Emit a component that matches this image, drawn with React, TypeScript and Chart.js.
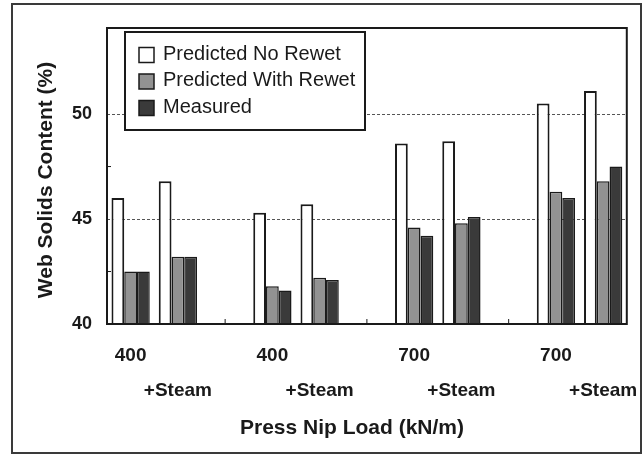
import React, { useEffect, useRef } from "react";
import { Chart, registerables } from "chart.js";

Chart.register(...registerables);

// ---- data ----
const tickLabels = ["400", "+Steam", "", "400", "+Steam", "", "700", "+Steam", "", "700", "+Steam"];
const predictedNoRewet = [46.0, 46.8, null, 45.3, 45.7, null, 48.6, 48.7, null, 50.5, 51.1];
const predictedWithRewet = [42.5, 43.2, null, 41.8, 42.2, null, 44.6, 44.8, null, 46.3, 46.8];
const measured = [42.5, 43.2, null, 41.6, 42.1, null, 44.2, 45.1, null, 46.0, 47.5];
const seriesNames = ["Predicted No Rewet", "Predicted With Rewet", "Measured"];
const yLabelTicks = [40, 45, 50];
const yGridValues = [45, 50];
const yMinorTicks = [42.5, 47.5];
const xTitle = "Press Nip Load (kN/m)";
const yTitle = "Web Solids Content (%)";

const FONT = "'Liberation Sans', Arial, Helvetica, sans-serif";
const INK = "#1a1a1a";

const decor = {
  id: "decor",
  beforeDraw(chart: any) {
    const { ctx, width, height } = chart;
    ctx.save();
    ctx.fillStyle = "#ffffff";
    ctx.fillRect(0, 0, width, height);
    ctx.strokeStyle = "#3a3a3a";
    ctx.lineWidth = 2;
    ctx.strokeRect(12, 4, 629, 449);
    ctx.restore();
  },
  afterDatasetsDraw(chart: any) {
    const { ctx, chartArea } = chart;
    const xs = chart.scales.x;
    const ys = chart.scales.y;
    ctx.save();
    // plot box
    ctx.strokeStyle = INK;
    ctx.lineWidth = 2;
    ctx.strokeRect(chartArea.left, chartArea.top, chartArea.right - chartArea.left, chartArea.bottom - chartArea.top);
    // minor inward ticks on x axis at empty slots
    ctx.lineWidth = 1;
    tickLabels.forEach((l, i) => {
      if (l === "") {
        const px = xs.getPixelForValue(i);
        ctx.beginPath();
        ctx.moveTo(px, chartArea.bottom);
        ctx.lineTo(px, chartArea.bottom - 5);
        ctx.stroke();
      }
    });
    // minor inward ticks on y axis
    yMinorTicks.forEach((v) => {
      const py = ys.getPixelForValue(v);
      ctx.beginPath();
      ctx.moveTo(chartArea.left, py);
      ctx.lineTo(chartArea.left + 4, py);
      ctx.stroke();
    });
    // legend
    const lx = 125, ly = 32, lw = 240, lh = 98;
    ctx.fillStyle = "#ffffff";
    ctx.fillRect(lx, ly, lw, lh);
    ctx.strokeStyle = INK;
    ctx.lineWidth = 2;
    ctx.strokeRect(lx, ly, lw, lh);
    ctx.font = `20px ${FONT}`;
    ctx.textAlign = "left";
    ctx.textBaseline = "middle";
    chart.data.datasets.forEach((ds: any, i: number) => {
      const cy = 55 + i * 26.5;
      ctx.fillStyle = ds.backgroundColor;
      ctx.fillRect(139, cy - 7.5, 15, 15);
      ctx.strokeStyle = INK;
      ctx.lineWidth = 1.5;
      ctx.strokeRect(139, cy - 7.5, 15, 15);
      ctx.fillStyle = INK;
      ctx.fillText(ds.label, 163, cy - 1);
    });
    // axis titles
    ctx.fillStyle = INK;
    ctx.font = `bold 21px ${FONT}`;
    ctx.textAlign = "center";
    ctx.textBaseline = "middle";
    ctx.fillText(xTitle, 352, 428);
    ctx.translate(46, 180);
    ctx.rotate(-Math.PI / 2);
    ctx.fillText(yTitle, 0, 0);
    ctx.restore();
  },
};

export default function App() {
  const ref = useRef<HTMLCanvasElement | null>(null);
  useEffect(() => {
    if (!ref.current) return;
    const chart = new Chart(ref.current, {
      type: "bar",
      data: {
        labels: tickLabels,
        datasets: [
          { label: seriesNames[0], data: predictedNoRewet, backgroundColor: "#ffffff", borderColor: INK, borderWidth: 2 },
          { label: seriesNames[1], data: predictedWithRewet, backgroundColor: "#929292", borderColor: INK, borderWidth: 1.5 },
          { label: seriesNames[2], data: measured, backgroundColor: "#3a3a3a", borderColor: INK, borderWidth: 1.5 },
        ],
      },
      options: {
        animation: false,
        responsive: false,
        devicePixelRatio: 1,
        layout: { padding: { left: 0, right: 17, top: 28, bottom: 0 } },
        datasets: { bar: { categoryPercentage: 0.81, barPercentage: 1.0 } },
        plugins: { legend: { display: false }, tooltip: { enabled: false } },
        scales: {
          x: {
            type: "category",
            grid: { display: false },
            border: { display: false },
            ticks: {
              autoSkip: false,
              maxRotation: 0,
              minRotation: 0,
              padding: 6,
              color: INK,
              font: { family: FONT, size: 19, weight: "bold", lineHeight: 35 / 19 },
              callback: (_v: any, i: number) => {
                const l = tickLabels[i];
                return l.startsWith("+") ? ["", l] : l;
              },
            },
            afterFit: (s: any) => {
              s.height = 133;
            },
          },
          y: {
            min: 40,
            max: 54.1,
            grid: {
              drawTicks: false,
              lineWidth: 1,
              color: (c: any) => (c.tick && yGridValues.includes(c.tick.value) ? "#555555" : "rgba(0,0,0,0)"),
            },
            border: { display: false, dash: [3, 2] },
            ticks: {
              stepSize: 2.5,
              padding: 15,
              color: INK,
              font: { family: FONT, size: 18, weight: "bold" },
              callback: (v: any) => (yLabelTicks.includes(v) ? String(v) : ""),
            },
            afterFit: (s: any) => {
              s.width = 107;
            },
          },
        },
      },
      plugins: [decor],
    } as any);
    return () => chart.destroy();
  }, []);
  return (
    <div style={{ position: "absolute", left: 0, top: 0, width: 644, height: 457 }}>
      <canvas ref={ref} width={644} height={457} style={{ display: "block" }} />
    </div>
  );
}
